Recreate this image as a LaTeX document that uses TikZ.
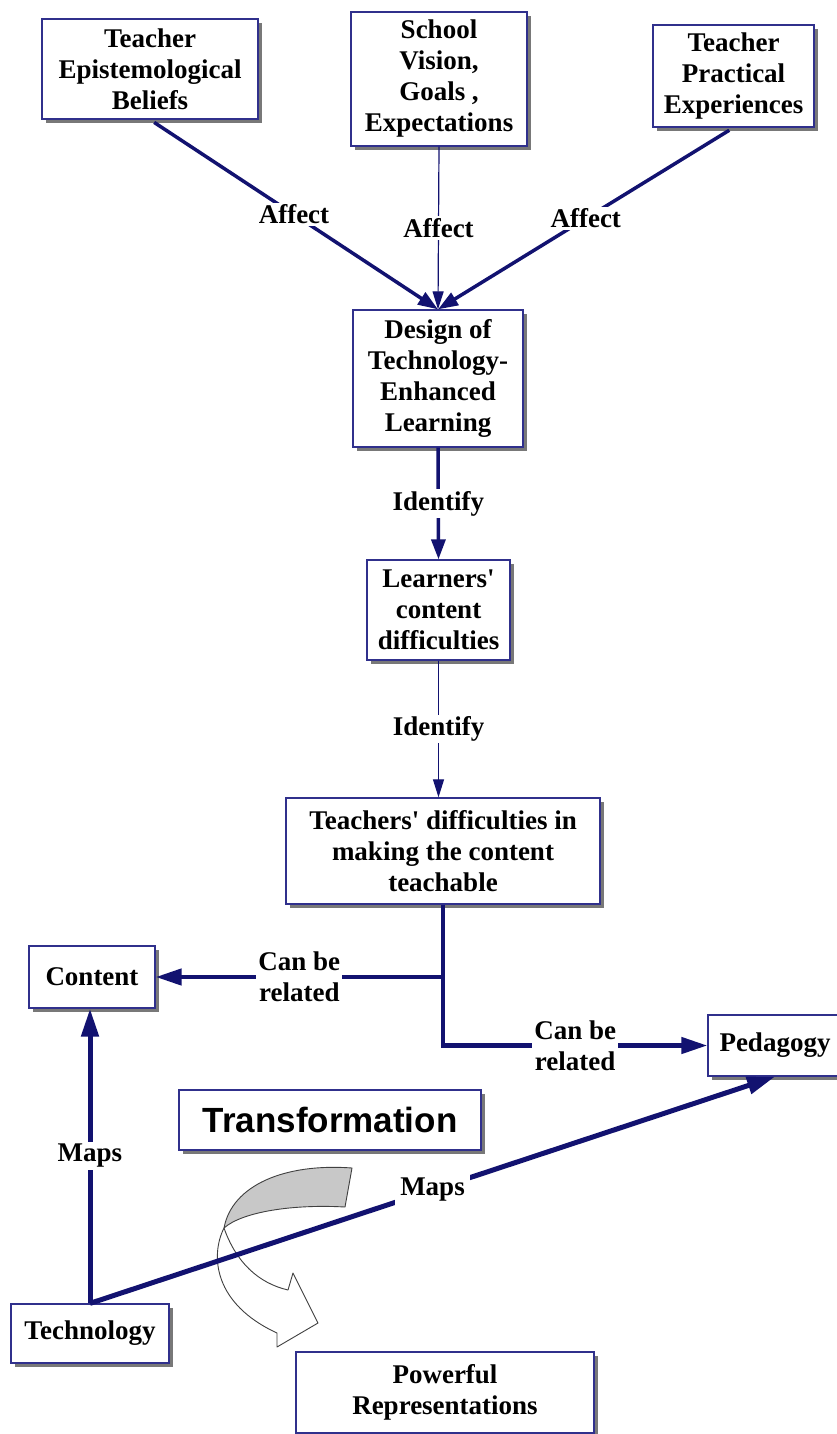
\documentclass[tikz,border=0pt]{standalone}
\usepackage{fontspec}
\setmainfont{Liberation Serif}
\newfontfamily\arialfont{Liberation Sans}
\usetikzlibrary{arrows.meta,shadows,calc}
\definecolor{navyline}{RGB}{18,18,112}
\definecolor{boxline}{RGB}{48,48,140}
\definecolor{shadowgray}{RGB}{120,120,120}
\definecolor{arrowgray}{RGB}{200,200,200}
\begin{document}
\begin{tikzpicture}[x=1pt,y=-1pt,
  box/.style={draw=boxline, line width=1.3pt, fill=white, align=center, inner sep=0pt,
    font=\fontsize{27}{31}\selectfont\bfseries,
    drop shadow={shadow xshift=4pt, shadow yshift=-4pt, fill=shadowgray, opacity=1}},
  lbl/.style={fill=white, inner sep=2pt, align=center, font=\fontsize{27}{31}\selectfont\bfseries},
  thinarr/.style={draw=navyline, line width=1.2pt, -{Triangle[length=18pt,width=11pt]}},
  medarr/.style={draw=navyline, line width=3.5pt, -{Triangle[length=20pt,width=14pt]}},
  bigarr/.style={draw=navyline, line width=4.5pt, line join=miter, -{Triangle[length=26pt,width=16pt]}},
  hugearr/.style={draw=navyline, line width=5pt, -{Triangle[length=28pt,width=17pt]}},
  twist/.style={draw=black!75, line width=0.9pt, line join=round}
]
\clip (0,0) rectangle (837,1434);
\fill[white] (0,0) rectangle (837,1434);

% boxes
\node[box, minimum width=216pt, minimum height=100pt] (b1) at (150,69) {Teacher\\Epistemological\\Beliefs};
\node[box, minimum width=176pt, minimum height=134pt] (b2) at (439,79) {School\\Vision,\\Goals ,\\Expectations};
\node[box, minimum width=161pt, minimum height=102pt] (b3) at (733.5,76) {Teacher\\Practical\\Experiences};
\node[box, minimum width=170pt, minimum height=137pt] (design) at (438,378.5) {Design of\\Technology-\\Enhanced\\Learning};
\node[box, minimum width=143pt, minimum height=100pt] (learners) at (438.5,610) {Learners\textquotesingle\\content\\difficulties};
\node[box, minimum width=314pt, minimum height=106pt] (teachers) at (443,851) {Teachers\textquotesingle\ difficulties in\\making the content\\teachable};
\node[box, minimum width=126pt, minimum height=62pt] (content) at (92,977) {Content};
\node[box, minimum width=134pt, minimum height=61pt] (pedagogy) at (775,1045.5) {Pedagogy};
\node[box, minimum width=302pt, minimum height=60pt, font=\arialfont\fontsize{35}{40}\selectfont\bfseries] (transf) at (330,1120) {Transformation};
\node[box, minimum width=158pt, minimum height=59pt] (technology) at (90,1333.5) {Technology};
\node[box, minimum width=298pt, minimum height=81pt] (powerful) at (445,1392.5) {Powerful\\Representations};

% curved transformation arrow
\filldraw[twist, fill=white]
  (224,1228) .. controls (210,1256) and (214,1304) .. (277,1333)
  -- (277,1347) -- (318,1323) -- (293,1273) -- (288,1290)
  .. controls (258,1283) and (236,1262) .. (224,1228) -- cycle;
\filldraw[twist, fill=arrowgray]
  (352,1168) .. controls (285,1163) and (232,1185) .. (224,1228)
  .. controls (242,1212) and (292,1204) .. (345,1207) -- cycle;

% top connectors
\draw[medarr, shorten <=5pt] (b1.south) -- node[lbl]{Affect} (design.north);
\draw[thinarr] (b2.south) -- node[lbl]{Affect} (design.north);
\draw[medarr, shorten <=5pt] (b3.south) -- node[lbl]{Affect} (design.north);

% middle chain
\draw[medarr] (design.south) -- node[lbl]{Identify} (learners.north);
\draw[thinarr] (learners.south) -- node[lbl]{Identify} (learners.south |- teachers.north);

% junction to content and pedagogy
\draw[bigarr] (teachers.south) |- node[lbl, pos=0.75]{Can be\\related} (pedagogy.west);
\draw[bigarr] (teachers.south |- content.east) -- node[lbl]{Can be\\related} (content.east);

% technology maps
\draw[hugearr] (technology.north) -- node[lbl]{Maps} (technology.north |- content.south);
\draw[hugearr] (technology.north) -- node[lbl, inner sep=5pt]{Maps} (pedagogy.south);
\end{tikzpicture}
\end{document}
